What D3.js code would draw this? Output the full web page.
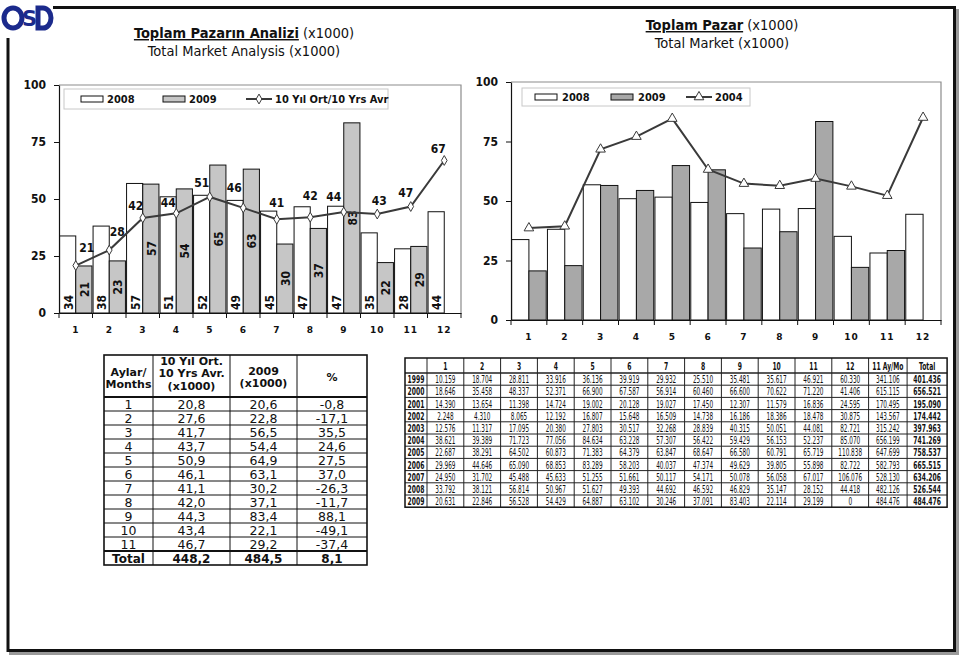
<!DOCTYPE html>
<html><head><meta charset="utf-8">
<script src="https://cdn.jsdelivr.net/npm/d3@7"></script>
<style>body{margin:0;background:#fff}svg{display:block}</style>
</head><body><svg id="c" width="959" height="656"></svg>
<script>
// ---------------- DATA ----------------
const months = [1,2,3,4,5,6,7,8,9,10,11,12];
const years = [1999,2000,2001,2002,2003,2004,2005,2006,2007,2008,2009];
const m1999 = [10159,18704,28811,33916,36136,39919,29932,25510,35481,35617,46921,60330];
const m2000 = [18646,35458,48337,52371,66900,67587,56914,60460,66600,70622,71220,41406];
const m2001 = [14390,13654,11398,14724,19002,20128,19027,17450,12307,11579,16836,24595];
const m2002 = [2248,4310,8065,12192,16807,15648,16509,14738,16186,18386,18478,30875];
const m2003 = [12576,11317,17095,20380,27803,30517,32268,28839,40315,50051,44081,82721];
const m2004 = [38621,39389,71723,77056,84634,63228,57307,56422,59429,56153,52237,85070];
const m2005 = [22687,38291,64502,60873,71383,64379,63847,68647,66580,60791,65719,110838];
const m2006 = [29969,44646,65090,68853,83289,58203,40037,47374,49629,39805,55898,82722];
const m2007 = [24950,31702,45488,45633,51255,51661,50117,54171,50078,56058,67017,106076];
const m2008 = [33792,38121,56814,50967,51627,49393,44692,46592,46829,35147,28152,44418];
const m2009 = [20631,22846,56528,54429,64887,63102,30246,37091,83403,22114,29199,0];
const elevenMonthTotals = [341106,615115,170495,143567,315242,656199,647699,582793,528130,482126,484476];
const yearTotals = [401436,656521,195090,174442,397963,741269,758537,665515,634206,526544,484476];

// 10-year average (x1000) for the line of the left chart
const avg10 = [20.8,27.6,41.7,43.7,50.9,46.1,41.1,42.0,44.3,43.4,46.7,66.9];

// left summary table
const tblMonths = ["1","2","3","4","5","6","7","8","9","10","11"];
const tblAvg = [20.8,27.6,41.7,43.7,50.9,46.1,41.1,42.0,44.3,43.4,46.7];
const tbl2009 = [20.6,22.8,56.5,54.4,64.9,63.1,30.2,37.1,83.4,22.1,29.2];
const tblPct = [-0.8,-17.1,35.5,24.6,27.5,37.0,-26.3,-11.7,88.1,-49.1,-37.4];
const tblTotals = [448.2,484.5,8.1];

const yTicks = [0,25,50,75,100];
// label placement for the 10-year-average line labels [dx, dy]
const lineLabelOffsets = [[11,-18],[8,-18],[-7,-12],[-8,-10],[-8,-14],[-9,-20],[0,-16],[0,-21],[-10,-15],[2,-13],[-5,-14],[-6,-11]];

// ---------------- HELPERS ----------------
const svg = d3.select("#c");
const COND = "'DejaVu Sans Condensed','DejaVu Sans',sans-serif";
const VERD = "'DejaVu Sans',Verdana,sans-serif";
const k = v => v/1000;
const fmtK = v => d3.format(",")(v).replace(/,/g,".");
const fmtC = v => d3.format(".1f")(v).replace(".",",").replace("\u2212","-");

// ---------------- FRAME & LOGO ----------------
svg.append("rect").attr("x",0).attr("y",0).attr("width",959).attr("height",656).attr("fill","#fff");
svg.append("rect").attr("x",956).attr("y",9).attr("width",3).attr("height",646).attr("fill","#9a9a9a");
svg.append("rect").attr("x",9).attr("y",652).attr("width",950).attr("height",3).attr("fill","#9a9a9a");
svg.append("line").attr("x1",53).attr("x2",956).attr("y1",7.5).attr("y2",7.5).attr("stroke","#111").attr("stroke-width",3);
svg.append("line").attr("x1",954.5).attr("x2",954.5).attr("y1",6).attr("y2",652).attr("stroke","#111").attr("stroke-width",3);
svg.append("line").attr("x1",8).attr("x2",956).attr("y1",650.5).attr("y2",650.5).attr("stroke","#111").attr("stroke-width",3);
svg.append("line").attr("x1",8).attr("x2",8).attr("y1",38).attr("y2",652).attr("stroke","#111").attr("stroke-width",3);

// OSD logo
const logo = svg.append("g").attr("fill","none").attr("stroke","#1b2a8c");
logo.append("ellipse").attr("cx",13).attr("cy",18).attr("rx",9).attr("ry",10).attr("stroke-width",5);
logo.append("path").attr("d","M38,8 L43,8 A8,10 0 0 1 43,28 L38,28 Z").attr("stroke-width",5);
svg.append("text").attr("x",29.5).attr("y",26).attr("text-anchor","middle")
  .attr("font-family",VERD).attr("font-weight","bold").attr("font-size",21).attr("fill","#1b2a8c").text("S");

// ---------------- TITLES ----------------
function title(cx, y1, y2, boldPart, rest, line2){
  const t = svg.append("text").attr("x",cx).attr("y",y1).attr("text-anchor","middle")
    .attr("font-family",COND).attr("font-size",14.5).attr("fill","#111");
  t.append("tspan").attr("font-weight","bold").attr("text-decoration","underline").text(boldPart);
  t.append("tspan").text(rest);
  svg.append("text").attr("x",cx).attr("y",y2).attr("text-anchor","middle")
    .attr("font-family",COND).attr("font-size",14.5).attr("fill","#111").text(line2);
}
title(244, 38, 56, "Toplam Pazarın Analizi", " (x1000)", "Total Market Analysis (x1000)");
title(722, 30, 48, "Toplam Pazar", " (x1000)", "Total Market (x1000)");

// ---------------- CHARTS ----------------
function drawChart(o){
  const g = svg.append("g");
  const x = d3.scaleBand().domain(months).range([o.x0,o.x1]);
  const y = d3.scaleLinear().domain([0,100]).range([o.yb,o.yt]);
  const xi = d3.scaleBand().domain(["a","b"]).range([0,x.bandwidth()]).paddingOuter(0.035);

  g.append("path").attr("d",`M${o.x0},${o.yt}H${o.x1}V${o.yb}`).attr("fill","none").attr("stroke","#8c8c8c").attr("stroke-width",1.2);

  const s08 = months.map((m,i)=>({m, v:k(m2008[i])}));
  const s09 = months.map((m,i)=>({m, v:k(m2009[i])})).filter(d=>d.v>0);
  g.selectAll(".b08").data(s08).join("rect")
    .attr("x",d=>x(d.m)+xi("a")).attr("width",xi.bandwidth())
    .attr("y",d=>y(d.v)).attr("height",d=>y(0)-y(d.v))
    .attr("fill","#fff").attr("stroke","#111").attr("stroke-width",1);
  g.selectAll(".b09").data(s09).join("rect")
    .attr("x",d=>x(d.m)+xi("b")).attr("width",xi.bandwidth())
    .attr("y",d=>y(d.v)).attr("height",d=>y(0)-y(d.v))
    .attr("fill",o.fill09).attr("stroke","#111").attr("stroke-width",1);

  if(o.labels){
    g.selectAll(".l08").data(s08).join("text")
      .attr("transform",d=>`translate(${x(d.m)+xi("a")+xi.bandwidth()/2+1},${y(0)-3}) rotate(-90)`)
      .attr("dominant-baseline","central").attr("text-anchor","start")
      .attr("font-family",COND).attr("font-weight","bold").attr("font-size",12).attr("fill","#111")
      .text(d=>Math.round(d.v));
    g.selectAll(".l09").data(s09).join("text")
      .attr("transform",d=>`translate(${x(d.m)+xi("b")+xi.bandwidth()/2+1},${(y(d.v)+y(0))/2}) rotate(-90)`)
      .attr("dominant-baseline","central").attr("text-anchor","middle")
      .attr("font-family",COND).attr("font-weight","bold").attr("font-size",12).attr("fill","#111")
      .text(d=>Math.round(d.v));
  }

  const ld = months.map((m,i)=>({m, v:o.line[i], i}));
  const cx = d=>x(d.m)+x.bandwidth()/2;
  g.append("path").datum(ld)
    .attr("d",d3.line().x(cx).y(d=>y(d.v)))
    .attr("fill","none").attr("stroke","#3a3a3a").attr("stroke-width",2);
  g.selectAll(".mk").data(ld).join("path")
    .attr("transform",d=>`translate(${cx(d)},${y(d.v)})`)
    .attr("d",d3.symbol().type(o.marker).size(o.markerSize))
    .attr("fill","#fff").attr("stroke","#3a3a3a").attr("stroke-width",1);
  if(o.lineLabels){
    g.selectAll(".ll").data(ld).join("text")
      .attr("x",d=>cx(d)+o.lineLabels[d.i][0]).attr("y",d=>y(d.v)+o.lineLabels[d.i][1])
      .attr("dominant-baseline","central").attr("text-anchor","middle")
      .attr("font-family",COND).attr("font-weight","bold").attr("font-size",12).attr("fill","#111")
      .text(d=>Math.round(d.v));
  }

  const ya = g.append("g").attr("transform",`translate(${o.x0},0)`)
    .call(d3.axisLeft(y).tickValues(yTicks).tickSize(5).tickPadding(o.yPad).tickSizeOuter(0));
  ya.select(".domain").attr("stroke","#111").attr("stroke-width",1.2);
  ya.selectAll(".tick line").attr("stroke","#111");
  ya.selectAll(".tick text").attr("font-family",COND).attr("font-weight","bold").attr("font-size",12).attr("fill","#111");
  const xa = g.append("g").attr("transform",`translate(0,${o.yb})`)
    .call(d3.axisBottom(x).tickSize(0).tickPadding(o.xPad).tickSizeOuter(0));
  xa.select(".domain").attr("stroke","#111").attr("stroke-width",1.2);
  xa.selectAll(".tick text").attr("font-family",VERD).attr("font-weight","bold").attr("font-size",9).attr("letter-spacing",1).attr("fill","#111");
  const bounds = months.map(m=>x(m)).concat([o.x1]);
  g.selectAll(".xt").data(bounds).join("line")
    .attr("x1",d=>d).attr("x2",d=>d).attr("y1",o.yb).attr("y2",o.yb+5).attr("stroke","#111");

  const L = o.legend;
  const lg = g.append("g");
  lg.append("rect").attr("x",L.x).attr("y",L.y).attr("width",L.w).attr("height",L.h)
    .attr("fill","#fff").attr("stroke","#c8c8c8");
  const my = L.y+L.h/2;
  L.items.forEach(it=>{
    if(it.type==="rect"){
      lg.append("rect").attr("x",it.x).attr("y",my-3).attr("width",22).attr("height",6)
        .attr("fill",it.fill).attr("stroke","#111").attr("stroke-width",1);
    } else {
      lg.append("line").attr("x1",it.x).attr("x2",it.x+26).attr("y1",my).attr("y2",my).attr("stroke","#3a3a3a").attr("stroke-width",2);
      lg.append("path").attr("transform",`translate(${it.x+13},${my})`)
        .attr("d",d3.symbol().type(o.marker).size(o.markerSize))
        .attr("fill","#fff").attr("stroke","#3a3a3a");
    }
    lg.append("text").attr("x",it.tx).attr("y",my).attr("dominant-baseline","central")
      .attr("font-family",COND).attr("font-weight","bold").attr("font-size",11).attr("fill","#111").text(it.label);
  });
}

drawChart({
  x0:59, x1:461, yt:85, yb:313, fill09:"#c6c6c6",
  line: avg10, marker:d3.symbolDiamond, markerSize:28,
  labels:true, lineLabels:lineLabelOffsets, yPad:8, xPad:14,
  legend:{x:64,y:89,w:324,h:20, items:[
    {type:"rect",x:81,tx:107,fill:"#fff",label:"2008"},
    {type:"rect",x:163,tx:189,fill:"#c6c6c6",label:"2009"},
    {type:"line",x:246,tx:275,label:"10 Yıl Ort/10 Yrs Avr"}]}
});
drawChart({
  x0:511, x1:941, yt:82, yb:320, fill09:"#a8a8a8",
  line: m2004.map(k), marker:d3.symbolTriangle, markerSize:40,
  labels:false, lineLabels:null, yPad:8, xPad:14,
  legend:{x:522,y:88,w:228,h:18, items:[
    {type:"rect",x:535,tx:562,fill:"#fff",label:"2008"},
    {type:"rect",x:611,tx:638,fill:"#a8a8a8",label:"2009"},
    {type:"line",x:686,tx:715,label:"2004"}]}
});

// ---------------- LEFT TABLE ----------------
(function(){
  const cols = [104,153,230,297,367];
  const top = 355, hb = 397, rh = 14, tb = hb + rh*tblMonths.length, bot = tb + 14;
  const g = svg.append("g");
  const heads = [
    {c:0, lines:[["Aylar/",372],["Months",384]]},
    {c:1, lines:[["10 Yıl Ort.",361],["10 Yrs Avr.",373],["(x1000)",386]]},
    {c:2, lines:[["2009",371],["(x1000)",383]]},
    {c:3, lines:[["%",377]]}
  ];
  heads.forEach(h=>h.lines.forEach(([t,yy])=>{
    g.append("text").attr("x",(cols[h.c]+cols[h.c+1])/2).attr("y",yy).attr("text-anchor","middle")
      .attr("dominant-baseline","central").attr("font-family",VERD).attr("font-weight","bold")
      .attr("font-size",11).attr("fill","#111").text(t);
  }));
  const rows = tblMonths.map((m,i)=>[m, fmtC(tblAvg[i]), fmtC(tbl2009[i]), fmtC(tblPct[i])]);
  rows.forEach((r,i)=>{
    r.forEach((t,c)=>{
      g.append("text").attr("x",(cols[c]+cols[c+1])/2).attr("y",hb+rh*i+rh/2+0.5)
        .attr("text-anchor","middle").attr("dominant-baseline","central")
        .attr("font-family",VERD).attr("font-size",12.5).attr("fill","#111").text(t);
    });
    if(i>0) g.append("line").attr("x1",cols[0]).attr("x2",cols[4]).attr("y1",hb+rh*i).attr("y2",hb+rh*i).attr("stroke","#111").attr("stroke-width",1);
  });
  ["Total", fmtC(tblTotals[0]), fmtC(tblTotals[1]), fmtC(tblTotals[2])].forEach((t,c)=>{
    g.append("text").attr("x",(cols[c]+cols[c+1])/2).attr("y",(tb+bot)/2+0.5)
      .attr("text-anchor","middle").attr("dominant-baseline","central")
      .attr("font-family",VERD).attr("font-weight","bold").attr("font-size",12).attr("fill","#111").text(t);
  });
  cols.slice(1,4).forEach(cx=>g.append("line").attr("x1",cx).attr("x2",cx).attr("y1",top).attr("y2",bot).attr("stroke","#111").attr("stroke-width",1));
  g.append("line").attr("x1",cols[0]).attr("x2",cols[4]).attr("y1",hb).attr("y2",hb).attr("stroke","#111").attr("stroke-width",2);
  g.append("line").attr("x1",cols[0]).attr("x2",cols[4]).attr("y1",tb).attr("y2",tb).attr("stroke","#111").attr("stroke-width",2);
  g.append("rect").attr("x",cols[0]).attr("y",top).attr("width",cols[4]-cols[0]).attr("height",bot-top)
    .attr("fill","none").attr("stroke","#111").attr("stroke-width",1.6);
})();

// ---------------- RIGHT TABLE ----------------
(function(){
  const x0 = 405, yearW = 22, mW = 36.8, ayW = 38.5, totW = 40;
  const cols = [x0, x0+yearW];
  months.forEach(()=>cols.push(cols[cols.length-1]+mW));
  cols.push(cols[cols.length-1]+ayW);
  cols.push(cols[cols.length-1]+totW);
  const top = 358, hb = 373, rh = 12.2, bot = hb + rh*years.length;
  const g = svg.append("g");
  const sx = 0.64;
  const cell = (t,c,cy,bold,size)=>g.append("text")
    .attr("transform",`translate(${(cols[c]+cols[c+1])/2},${cy}) scale(${sx},1)`)
    .attr("text-anchor","middle").attr("dominant-baseline","central")
    .attr("font-family",COND).attr("font-weight",bold?"bold":"normal")
    .attr("font-size",size).attr("fill","#111").text(t);
  const head = [""].concat(months.map(String)).concat(["11 Ay/Mo","Total"]);
  head.forEach((t,c)=>cell(t,c,(top+hb)/2+0.5,true,10.5));
  const byYear = [m1999,m2000,m2001,m2002,m2003,m2004,m2005,m2006,m2007,m2008,m2009];
  years.forEach((yr,i)=>{
    const cy = hb + rh*i + rh/2 + 0.5;
    const cells = [String(yr)].concat(byYear[i].map(fmtK)).concat([fmtK(elevenMonthTotals[i]), fmtK(yearTotals[i])]);
    cells.forEach((t,c)=>{
      const bold = (c===0 || c===cells.length-1);
      cell(t,c,cy,bold,bold?10.5:10);
    });
    g.append("line").attr("x1",cols[0]).attr("x2",cols[cols.length-1]).attr("y1",hb+rh*i).attr("y2",hb+rh*i)
      .attr("stroke","#222").attr("stroke-width",i===0?1.4:1);
  });
  cols.slice(1,-1).forEach(cx=>g.append("line").attr("x1",cx).attr("x2",cx).attr("y1",top).attr("y2",bot).attr("stroke","#222").attr("stroke-width",1));
  g.append("rect").attr("x",cols[0]).attr("y",top).attr("width",cols[cols.length-1]-cols[0]).attr("height",bot-top)
    .attr("fill","none").attr("stroke","#111").attr("stroke-width",1.5);
})();
</script></body></html>
